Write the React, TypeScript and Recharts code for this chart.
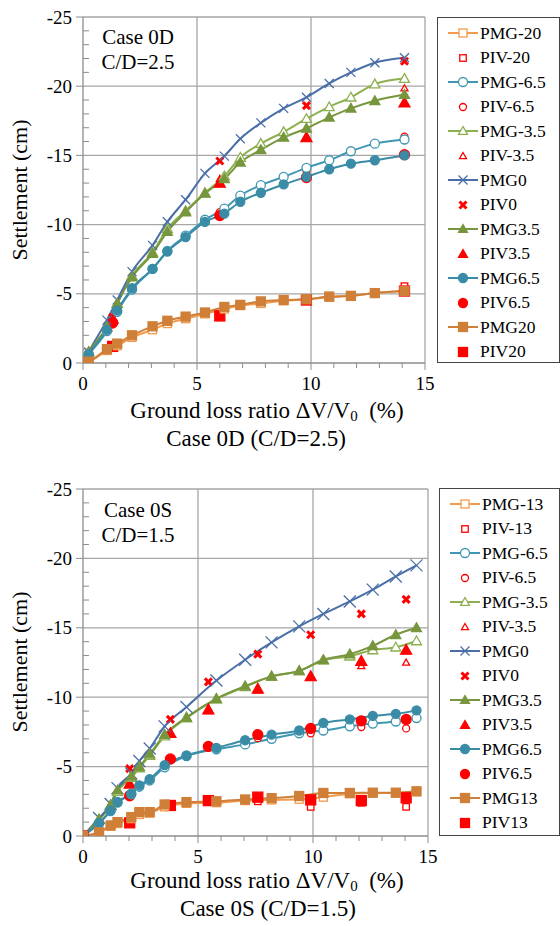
import React from "react";
import { CartesianGrid, ComposedChart, Customized, Legend, Line, Scatter, XAxis, YAxis } from "recharts";

const FONT = "'Liberation Serif', 'Times New Roman', serif";

const xTicks = [0, 1, 2, 3, 4, 5, 6, 7, 8, 9, 10, 11, 12, 13, 14, 15];
const yTicks = [0, -1, -2, -3, -4, -5, -6, -7, -8, -9, -10, -11, -12, -13, -14, -15, -16, -17, -18, -19, -20, -21, -22, -23, -24, -25];
const yGrid = [-25, -20, -15, -10, -5];
const xGrid = [5, 10, 15];

// ---- Case 0D (C/D=2.5) ----
const pmgX0D = [0, 0.25, 1.05, 1.5, 2.15, 3.05, 3.7, 4.5, 5.35, 6.2, 6.9, 7.8, 8.8, 9.8, 10.8, 11.75, 12.8, 14.1];
const pmgM20_0D = [0, -0.1, -0.9, -1.25, -1.85, -2.4, -2.85, -3.2, -3.55, -3.9, -4.15, -4.3, -4.5, -4.6, -4.75, -4.85, -5.05, -5.2];
const pmgM65_0D = [0, -0.6, -2.3, -3.7, -5.3, -6.8, -8.1, -9.2, -10.35, -11.15, -12.1, -12.85, -13.45, -14.1, -14.65, -15.3, -15.85, -16.15];
const pmgM35_0D = [0, -0.8, -2.6, -4.3, -6.3, -8.0, -9.7, -11.0, -12.3, -13.5, -14.85, -15.85, -16.7, -17.65, -18.5, -19.2, -20.15, -20.55];
const pmg0_0D = [0, -0.8, -3.1, -4.55, -6.6, -8.5, -10.2, -11.8, -13.7, -14.95, -16.2, -17.35, -18.4, -19.2, -20.2, -21.0, -21.7, -22.05];
const pmg35_0D = [0, -0.8, -2.6, -4.3, -6.2, -7.9, -9.5, -10.9, -12.25, -13.3, -14.5, -15.4, -16.3, -16.95, -17.75, -18.4, -18.95, -19.4];
const pmg65_0D = [0, -0.65, -2.4, -3.8, -5.4, -6.8, -8.05, -9.1, -10.2, -10.8, -11.65, -12.3, -12.9, -13.45, -14.0, -14.4, -14.65, -15.0];
const pmg20_0D = [0, -0.1, -1.0, -1.4, -2.0, -2.65, -3.05, -3.35, -3.65, -4.05, -4.2, -4.45, -4.55, -4.6, -4.8, -4.85, -5.05, -5.2];

const pivX0D = [0, 1.3, 6.0, 9.8, 14.1];
const pivM20_0D = [0, -1.2, -3.5, -4.6, -5.55];
const pivM65_0D = [0, -2.8, -10.9, -13.9, -16.35];
const pivM35_0D = [0, -3.1, -13.3, -16.95, -19.85];
const piv0_0D = [0, -3.3, -14.6, -18.6, -21.8];
const piv35_0D = [0, -3.2, -13.0, -16.3, -18.8];
const piv65_0D = [0, -2.9, -10.65, -13.4, -15.05];
const piv20_0D = [0, -1.2, -3.4, -4.55, -5.2];

// ---- Case 0S (C/D=1.5) ----
const pmgX0S = [0, 0.7, 1.2, 1.5, 2.1, 2.45, 2.9, 3.55, 4.5, 5.8, 7.05, 8.2, 9.4, 10.45, 11.6, 12.6, 13.6, 14.5];
const pmgM13_0S = [0, -0.25, -0.7, -0.9, -1.25, -1.55, -1.65, -2.1, -2.35, -2.4, -2.55, -2.6, -2.65, -2.8, -3.05, -3.1, -3.1, -3.2];
const pmgM65_0S = [0, -0.9, -1.8, -2.4, -3.0, -3.55, -4.0, -4.95, -5.75, -6.25, -6.6, -7.0, -7.4, -7.6, -7.9, -8.1, -8.25, -8.5];
const pmgM35_0S = [0, -1.2, -2.2, -3.2, -4.2, -4.9, -5.8, -7.2, -8.5, -9.85, -10.75, -11.5, -11.9, -12.65, -12.95, -13.4, -13.6, -14.05];
const pmg0_0S = [0, -1.3, -2.3, -3.45, -4.5, -5.4, -6.3, -7.9, -9.3, -11.2, -12.7, -13.95, -15.1, -16.0, -16.9, -17.75, -18.7, -19.5];
const pmg35_0S = [0, -1.2, -2.25, -3.3, -4.3, -5.0, -5.9, -7.3, -8.55, -9.9, -10.8, -11.5, -11.9, -12.7, -13.1, -13.7, -14.5, -15.0];
const pmg65_0S = [0, -0.95, -1.85, -2.45, -3.05, -3.65, -4.1, -5.1, -5.8, -6.35, -6.9, -7.3, -7.6, -8.15, -8.4, -8.65, -8.8, -9.05];
const pmg13_0S = [0, -0.27, -0.76, -1.0, -1.36, -1.72, -1.72, -2.27, -2.44, -2.5, -2.63, -2.73, -2.88, -3.1, -3.1, -3.12, -3.12, -3.22];

const pivX0S = [0, 2.03, 3.8, 5.45, 7.6, 9.9, 12.1, 14.05];
const pivM13_0S = [0, -0.9, -2.15, -2.5, -2.5, -2.1, -2.4, -2.1];
const pivM65_0S = [0, -2.85, -5.5, -6.4, -7.05, -7.4, -7.85, -7.75];
const pivM35_0S = [0, -3.7, -7.3, -9.0, -10.5, -11.4, -12.25, -12.5];
const piv0_0S = [0, -4.85, -8.4, -11.1, -13.1, -14.5, -16.0, -17.05];
const piv35_0S = [0, -3.75, -7.4, -9.1, -10.6, -11.5, -12.6, -13.4];
const piv65_0S = [0, -2.9, -5.55, -6.45, -7.3, -7.75, -8.3, -8.4];
const piv13_0S = [0, -0.95, -2.2, -2.55, -2.8, -2.6, -2.55, -2.75];

const RED = "#ff0000";
const ORANGE_L = "#f39a4c";
const ORANGE_D = "#cf7f38";
const TEAL_L = "#3f97b3";
const TEAL_D = "#3a8ca6";
const GREEN_L = "#8cb04f";
const GREEN_D = "#77963d";
const BLUE = "#4a6ea8";

type Shape = "square" | "circle" | "triangle" | "cross" | "boldCross";

type Series = {
  name: string;
  data: { x: number; y: number }[];
  color: string;
  shape: Shape;
  filled: boolean;
  size: number;
  line: boolean;
};

const zip = (xs: number[], ys: number[]) => xs.map((x, i) => ({ x, y: ys[i] }));

function Marker({ cx, cy, shape, filled, color, size }: { cx: number; cy: number; shape: Shape; filled: boolean; color: string; size: number }) {
  const h = size / 2;
  const fill = filled ? color : "#fff";
  if (cx == null || cy == null) return null;
  switch (shape) {
    case "square":
      return <rect x={cx - h} y={cy - h} width={size} height={size} fill={fill} stroke={color} strokeWidth={1.3} />;
    case "circle":
      return <circle cx={cx} cy={cy} r={h} fill={fill} stroke={color} strokeWidth={1.3} />;
    case "triangle":
      return (
        <polygon
          points={`${cx},${cy - h} ${cx + h},${cy + h * 0.75} ${cx - h},${cy + h * 0.75}`}
          fill={fill}
          stroke={color}
          strokeWidth={1.3}
        />
      );
    case "cross":
      return (
        <g stroke={color} strokeWidth={1.3}>
          <line x1={cx - h} y1={cy - h} x2={cx + h} y2={cy + h} />
          <line x1={cx - h} y1={cy + h} x2={cx + h} y2={cy - h} />
        </g>
      );
    default:
      return (
        <g stroke={color} strokeWidth={3}>
          <line x1={cx - h} y1={cy - h} x2={cx + h} y2={cy + h} />
          <line x1={cx - h} y1={cy + h} x2={cx + h} y2={cy - h} />
        </g>
      );
  }
}

function makeSeries(
  tag: string,
  pmgX: number[],
  pivX: number[],
  vals: { m20: number[]; pm20: number[]; m65: number[]; pm65: number[]; m35: number[]; pm35: number[]; z: number[]; pz: number[]; p35: number[]; pp35: number[]; p65: number[]; pp65: number[]; p20: number[]; pp20: number[] },
  crossSize: number
): Series[] {
  return [
    { name: `PMG-${tag}`, data: zip(pmgX, vals.m20), color: ORANGE_L, shape: "square", filled: false, size: 8, line: true },
    { name: `PIV-${tag}`, data: zip(pivX, vals.pm20), color: RED, shape: "square", filled: false, size: 6.5, line: false },
    { name: "PMG-6.5", data: zip(pmgX, vals.m65), color: TEAL_L, shape: "circle", filled: false, size: 9, line: true },
    { name: "PIV-6.5", data: zip(pivX, vals.pm65), color: RED, shape: "circle", filled: false, size: 7, line: false },
    { name: "PMG-3.5", data: zip(pmgX, vals.m35), color: GREEN_L, shape: "triangle", filled: false, size: 10, line: true },
    { name: "PIV-3.5", data: zip(pivX, vals.pm35), color: RED, shape: "triangle", filled: false, size: 7, line: false },
    { name: "PMG0", data: zip(pmgX, vals.z), color: BLUE, shape: "cross", filled: false, size: crossSize, line: true },
    { name: "PIV0", data: zip(pivX, vals.pz), color: RED, shape: "boldCross", filled: true, size: 7, line: false },
    { name: "PMG3.5", data: zip(pmgX, vals.p35), color: GREEN_D, shape: "triangle", filled: true, size: 10, line: true },
    { name: "PIV3.5", data: zip(pivX, vals.pp35), color: RED, shape: "triangle", filled: true, size: 11, line: false },
    { name: "PMG6.5", data: zip(pmgX, vals.p65), color: TEAL_D, shape: "circle", filled: true, size: 9, line: true },
    { name: "PIV6.5", data: zip(pivX, vals.pp65), color: RED, shape: "circle", filled: true, size: 10, line: false },
    { name: `PMG${tag}`, data: zip(pmgX, vals.p20), color: ORANGE_D, shape: "square", filled: true, size: 9, line: true },
    { name: `PIV${tag}`, data: zip(pivX, vals.pp20), color: RED, shape: "square", filled: true, size: 10, line: false },
  ];
}

const series0D = makeSeries("20", pmgX0D, pivX0D, {
  m20: pmgM20_0D, pm20: pivM20_0D, m65: pmgM65_0D, pm65: pivM65_0D, m35: pmgM35_0D, pm35: pivM35_0D,
  z: pmg0_0D, pz: piv0_0D, p35: pmg35_0D, pp35: piv35_0D, p65: pmg65_0D, pp65: piv65_0D, p20: pmg20_0D, pp20: piv20_0D,
}, 9);

const series0S = makeSeries("13", pmgX0S, pivX0S, {
  m20: pmgM13_0S, pm20: pivM13_0S, m65: pmgM65_0S, pm65: pivM65_0S, m35: pmgM35_0S, pm35: pivM35_0S,
  z: pmg0_0S, pz: piv0_0S, p35: pmg35_0S, pp35: piv35_0S, p65: pmg65_0S, pp65: piv65_0S, p20: pmg13_0S, pp20: piv13_0S,
}, 12);

function YTick(props: any) {
  const { x, y, payload } = props;
  const v = payload.value;
  if (v % 5 !== 0) {
    return <line x1={x} x2={x + 6} y1={y} y2={y} stroke="#8c8c8c" strokeWidth={1} />;
  }
  return (
    <g>
      <line x1={x - 7} x2={x} y1={y} y2={y} stroke="#8c8c8c" strokeWidth={1} />
      <text x={x - 11} y={y} textAnchor="end" dominantBaseline="central" fontSize={19} fill="#000" fontFamily={FONT}>
        {v}
      </text>
    </g>
  );
}

function XTick(props: any) {
  const { x, y, payload } = props;
  const v = payload.value;
  if (v % 5 !== 0) {
    return <line x1={x} x2={x} y1={y} y2={y + 5} stroke="#8c8c8c" strokeWidth={1} />;
  }
  return (
    <g>
      <line x1={x} x2={x} y1={y} y2={y + 7} stroke="#8c8c8c" strokeWidth={1} />
      <text x={x} y={y + 20} textAnchor="middle" dominantBaseline="central" fontSize={19} fill="#000" fontFamily={FONT}>
        {v}
      </text>
    </g>
  );
}

function LegendBox({ items }: { items: Series[] }) {
  return (
    <div
      style={{
        border: "1px solid #444",
        background: "#fff",
        boxSizing: "border-box",
        width: "100%",
        height: "100%",
        paddingTop: 3,
        fontFamily: FONT,
      }}
    >
      {items.map((s) => (
        <div key={s.name} style={{ display: "flex", alignItems: "center", height: 24.5 }}>
          <svg width={30} height={16} style={{ marginLeft: 10, marginRight: 2, flex: "none" }}>
            {s.line && <line x1={0} x2={30} y1={8} y2={8} stroke={s.color} strokeWidth={2} />}
            <Marker cx={15} cy={8} shape={s.shape} filled={s.filled} color={s.color} size={Math.min(s.size, 9)} />
          </svg>
          <span style={{ fontSize: 17.5, color: "#000", lineHeight: 1 }}>{s.name}</span>
        </div>
      ))}
    </div>
  );
}

type Layout = {
  top: number;
  height: number;
  margin: { top: number; right: number; bottom: number; left: number };
  legend: { left: number; top: number; width: number; height: number };
  ylabel: { x: number; y: number };
  caseText: [string, string];
  caseY: [number, number];
  title: { y1: number; y2: number; x1: number; x2: number; text2: string };
};

function SettlementChart({ series, layout }: { series: Series[]; layout: Layout }) {
  const { margin } = layout;
  const texts = () => (
    <g fontFamily={FONT} fill="#000">
      <text
        x={layout.ylabel.x}
        y={layout.ylabel.y}
        fontSize={22}
        textAnchor="middle"
        dominantBaseline="central"
        transform={`rotate(-90 ${layout.ylabel.x} ${layout.ylabel.y})`}
      >
        Settlement (cm)
      </text>
      <text x={138} y={layout.caseY[0]} fontSize={21} textAnchor="middle" dominantBaseline="central">
        {layout.caseText[0]}
      </text>
      <text x={138} y={layout.caseY[1]} fontSize={21} textAnchor="middle" dominantBaseline="central">
        {layout.caseText[1]}
      </text>
      <text x={layout.title.x1} y={layout.title.y1} fontSize={23} textAnchor="middle" dominantBaseline="central">
        Ground loss ratio ΔV/V<tspan fontSize={15} dy={6}>0</tspan>
        <tspan dy={-6}>{"\u00a0\u00a0(%)"}</tspan>
      </text>
      <text x={layout.title.x2} y={layout.title.y2} fontSize={23} textAnchor="middle" dominantBaseline="central">
        {layout.title.text2}
      </text>
    </g>
  );
  return (
    <div style={{ position: "absolute", left: 0, top: layout.top }}>
      <ComposedChart width={560} height={layout.height} margin={margin}>
        <CartesianGrid horizontalValues={yGrid} verticalValues={xGrid} stroke="#a6a6a6" strokeWidth={1.3} />
        <XAxis
          type="number"
          dataKey="x"
          domain={[0, 15]}
          ticks={xTicks}
          interval={0}
          allowDataOverflow
          height={30}
          tickSize={0}
          tickMargin={0}
          tickLine={false}
          axisLine={{ stroke: "#8c8c8c", strokeWidth: 1.3 }}
          tick={<XTick />}
        />
        <YAxis
          type="number"
          dataKey="y"
          domain={[-25, 0]}
          reversed
          ticks={yTicks}
          interval={0}
          allowDataOverflow
          width={60}
          tickSize={0}
          tickMargin={0}
          tickLine={false}
          axisLine={{ stroke: "#8c8c8c", strokeWidth: 1.3 }}
          tick={<YTick />}
        />
        {series.map((s) =>
          s.line ? (
            <Line
              key={s.name}
              name={s.name}
              data={s.data}
              dataKey="y"
              type="monotone"
              stroke={s.color}
              strokeWidth={2}
              isAnimationActive={false}
              activeDot={false}
              dot={(p: any) => (
                <Marker key={`${s.name}-${p.index}`} cx={p.cx} cy={p.cy} shape={s.shape} filled={s.filled} color={s.color} size={s.size} />
              )}
            />
          ) : (
            <Scatter
              key={s.name}
              name={s.name}
              data={s.data}
              dataKey="y"
              fill={s.color}
              isAnimationActive={false}
              shape={(p: any) => <Marker cx={p.cx} cy={p.cy} shape={s.shape} filled={s.filled} color={s.color} size={s.size} />}
            />
          )
        )}
        <Customized component={texts} />
        <Legend
          layout="horizontal"
          verticalAlign="middle"
          align="center"
          wrapperStyle={{ ...layout.legend }}
          content={() => <LegendBox items={series} />}
        />
      </ComposedChart>
    </div>
  );
}

const layout0D: Layout = {
  top: 0,
  height: 470,
  margin: { top: 17, right: 135, bottom: 77, left: 23 },
  legend: { left: 437, top: 17, width: 123, height: 346 },
  ylabel: { x: 19, y: 190 },
  caseText: ["Case 0D", "C/D=2.5"],
  caseY: [37, 62],
  title: { x1: 267, y1: 410, x2: 256, y2: 438, text2: "Case 0D (C/D=2.5)" },
};

const layout0S: Layout = {
  top: 470,
  height: 456,
  margin: { top: 19, right: 132, bottom: 60, left: 23 },
  legend: { left: 439, top: 18, width: 121, height: 348 },
  ylabel: { x: 19, y: 192 },
  caseText: ["Case 0S", "C/D=1.5"],
  caseY: [40, 65],
  title: { x1: 267, y1: 410, x2: 268, y2: 438, text2: "Case 0S (C/D=1.5)" },
};

export default function App() {
  return (
    <div style={{ position: "relative", width: 560, height: 926, background: "#fff", fontFamily: FONT }}>
      <style>{"html,body{margin:0;padding:0;overflow:hidden;background:#fff}"}</style>
      <SettlementChart series={series0D} layout={layout0D} />
      <SettlementChart series={series0S} layout={layout0S} />
    </div>
  );
}
